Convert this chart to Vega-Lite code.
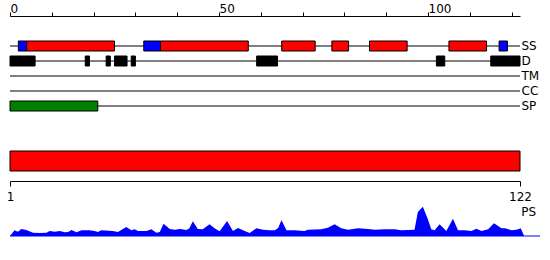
{
  "$schema": "https://vega.github.io/schema/vega-lite/v6.json",
  "padding": {"left": 6, "top": 2, "right": 0, "bottom": 0},
  "bounds": "flush",
  "spacing": 0,
  "config": {
    "view": {"stroke": null},
    "font": "DejaVu Sans",
    "axis": {"grid": false, "labelFont": "DejaVu Sans", "labelColor": "#000", "domainColor": "#000", "tickColor": "#000", "labelFontSize": 12, "title": null}
  },
  "datasets": {
    "tracks": [
      {"track": "SS", "start": 0, "end": 122},
      {"track": "D", "start": 0, "end": 122},
      {"track": "TM", "start": 0, "end": 122},
      {"track": "CC", "start": 0, "end": 122},
      {"track": "SP", "start": 0, "end": 122}
    ],
    "features": [
      {"track": "SS", "type": "strand", "start": 2, "end": 4},
      {"track": "SS", "type": "helix", "start": 4, "end": 25},
      {"track": "SS", "type": "strand", "start": 32, "end": 36},
      {"track": "SS", "type": "helix", "start": 36, "end": 57},
      {"track": "SS", "type": "helix", "start": 65, "end": 73},
      {"track": "SS", "type": "helix", "start": 77, "end": 81},
      {"track": "SS", "type": "helix", "start": 86, "end": 95},
      {"track": "SS", "type": "helix", "start": 105, "end": 114},
      {"track": "SS", "type": "strand", "start": 117, "end": 119},
      {"track": "D", "type": "disorder", "start": 0, "end": 6},
      {"track": "D", "type": "disorder", "start": 18, "end": 19},
      {"track": "D", "type": "disorder", "start": 23, "end": 24},
      {"track": "D", "type": "disorder", "start": 25, "end": 28},
      {"track": "D", "type": "disorder", "start": 29, "end": 30},
      {"track": "D", "type": "disorder", "start": 59, "end": 64},
      {"track": "D", "type": "disorder", "start": 102, "end": 104},
      {"track": "D", "type": "disorder", "start": 115, "end": 122},
      {"track": "SP", "type": "signal", "start": 0, "end": 21}
    ],
    "protein": [
      {"name": "protein", "start": 1, "end": 122}
    ],
    "profile": [
      {"pos": 0, "value": 0}, {"pos": 1.1, "value": 5.7}, {"pos": 1.9, "value": 4.3}, {"pos": 2.7, "value": 7},
      {"pos": 3.9, "value": 6}, {"pos": 5.5, "value": 3.3}, {"pos": 7.1, "value": 3}, {"pos": 8.7, "value": 3.3},
      {"pos": 9.5, "value": 5}, {"pos": 10.7, "value": 4.3}, {"pos": 11.9, "value": 5}, {"pos": 13.1, "value": 3.7},
      {"pos": 13.9, "value": 4}, {"pos": 14.7, "value": 6}, {"pos": 15.9, "value": 3.7}, {"pos": 17.1, "value": 5.7},
      {"pos": 19.0, "value": 5.7}, {"pos": 20.2, "value": 5}, {"pos": 21.0, "value": 4}, {"pos": 21.8, "value": 5.7},
      {"pos": 24.6, "value": 5}, {"pos": 25.8, "value": 4}, {"pos": 27.8, "value": 9}, {"pos": 29.0, "value": 5.7},
      {"pos": 29.8, "value": 6.7}, {"pos": 30.6, "value": 5}, {"pos": 32.6, "value": 5}, {"pos": 33.8, "value": 6.7},
      {"pos": 35.0, "value": 3.3}, {"pos": 35.8, "value": 4}, {"pos": 36.7, "value": 12.3}, {"pos": 38.2, "value": 7},
      {"pos": 39.4, "value": 6.3}, {"pos": 40.6, "value": 7}, {"pos": 42.2, "value": 6}, {"pos": 42.9, "value": 7.7},
      {"pos": 43.7, "value": 14.7}, {"pos": 44.9, "value": 7}, {"pos": 46.1, "value": 6.7}, {"pos": 47.7, "value": 11.7},
      {"pos": 48.9, "value": 7.7}, {"pos": 50.1, "value": 4.7}, {"pos": 51.9, "value": 15}, {"pos": 53.3, "value": 5},
      {"pos": 54.5, "value": 8}, {"pos": 55.7, "value": 5.7}, {"pos": 57.3, "value": 3}, {"pos": 58.9, "value": 7.7},
      {"pos": 60.5, "value": 6.3}, {"pos": 62.1, "value": 5.7}, {"pos": 63.3, "value": 5.7}, {"pos": 64.1, "value": 8},
      {"pos": 64.9, "value": 15.7}, {"pos": 66.1, "value": 5.7}, {"pos": 68.0, "value": 5.7}, {"pos": 70.4, "value": 5},
      {"pos": 71.2, "value": 6.3}, {"pos": 74.4, "value": 6.7}, {"pos": 76.0, "value": 8.3}, {"pos": 77.6, "value": 11.7},
      {"pos": 79.2, "value": 7.7}, {"pos": 80.8, "value": 6.3}, {"pos": 83.2, "value": 7.7}, {"pos": 85.6, "value": 7},
      {"pos": 87.2, "value": 6.3}, {"pos": 89.6, "value": 6.7}, {"pos": 92.0, "value": 6.7}, {"pos": 93.5, "value": 5.7},
      {"pos": 96.7, "value": 6.3}, {"pos": 97.5, "value": 24}, {"pos": 98.7, "value": 29.3}, {"pos": 99.9, "value": 16.7},
      {"pos": 100.7, "value": 6.7}, {"pos": 101.5, "value": 5.7}, {"pos": 102.7, "value": 11.7}, {"pos": 104.3, "value": 5},
      {"pos": 105.9, "value": 17.3}, {"pos": 107.1, "value": 5.7}, {"pos": 108.7, "value": 5.7}, {"pos": 110.3, "value": 5},
      {"pos": 111.5, "value": 7.3}, {"pos": 112.7, "value": 5}, {"pos": 114.3, "value": 6.7}, {"pos": 115.7, "value": 12.7},
      {"pos": 117.5, "value": 7.7}, {"pos": 118.3, "value": 7.7}, {"pos": 119.9, "value": 5.7}, {"pos": 121.1, "value": 6.3},
      {"pos": 122.1, "value": 7.7}, {"pos": 122.9, "value": 0}
    ]
  },
  "vconcat": [
    {
      "width": 510,
      "height": 105,
      "layer": [
        {
          "data": {"name": "tracks"},
          "mark": {"type": "rule", "color": "#000", "strokeWidth": 1},
          "encoding": {
            "y": {"field": "track", "type": "nominal",
              "scale": {"type": "band", "domain": ["SS", "D", "TM", "CC", "SP"], "paddingInner": 0, "paddingOuter": 1, "align": 0.75},
              "axis": {"orient": "right", "domain": false, "ticks": false, "tickSize": 0, "labelPadding": 1, "labelAlign": "left", "labelBaseline": "middle", "labelFontSize": 12}},
            "x": {"field": "start", "type": "quantitative",
              "scale": {"domain": [0, 122], "nice": false, "zero": false},
              "axis": {"orient": "top", "values": [0, 10, 20, 30, 40, 50, 60, 70, 80, 90, 100, 110, 120],
                "labelExpr": "datum.value % 50 === 0 ? datum.label : ''",
                "labelAlign": "left", "labelBaseline": "alphabetic", "labelPadding": 0, "tickSize": 4,
                "labelFlush": false, "labelOverlap": false}},
            "x2": {"field": "end"}
          }
        },
        {
          "data": {"name": "features"},
          "mark": {"type": "bar", "height": 10, "stroke": "#000", "strokeWidth": 1},
          "encoding": {
            "x": {"field": "start", "type": "quantitative"},
            "x2": {"field": "end"},
            "y": {"field": "track", "type": "nominal"},
            "color": {"field": "type", "type": "nominal",
              "scale": {"domain": ["helix", "strand", "disorder", "signal"], "range": ["#ff0000", "#0000ff", "#000000", "#008000"]},
              "legend": null}
          }
        }
      ]
    },
    {
      "width": 510,
      "height": 60,
      "data": {"name": "protein"},
      "mark": {"type": "bar", "color": "#ff0000", "stroke": "#000", "strokeWidth": 1},
      "encoding": {
        "x": {"field": "start", "type": "quantitative",
          "scale": {"domain": [1, 122], "nice": false, "zero": false},
          "axis": {"values": [1, 122], "tickSize": 5, "labelPadding": 5, "labelFlush": false, "labelOverlap": false}},
        "x2": {"field": "end"},
        "y": {"field": "name", "type": "nominal", "scale": {"type": "band", "paddingInner": 0, "paddingOuter": 1, "align": 0.75}, "axis": null}
      }
    },
    {
      "width": 530,
      "height": 55,
      "layer": [
        {
          "data": {"name": "profile"},
          "mark": {"type": "area", "color": "#0000ff", "opacity": 1, "interpolate": "linear"},
          "encoding": {
            "x": {"field": "pos", "type": "quantitative", "scale": {"domain": [0, 126.7], "nice": false, "zero": false}, "axis": null},
            "y": {"field": "value", "type": "quantitative", "scale": {"domain": [0, 55], "nice": false}, "axis": null}
          }
        },
        {
          "data": {"values": [{}]},
          "mark": {"type": "rule", "color": "#0000ff", "strokeWidth": 1},
          "encoding": {"y": {"datum": 0}}
        },
        {
          "data": {"values": [{}]},
          "mark": {"type": "text", "text": "PS", "align": "left", "baseline": "middle", "dx": 1, "fontSize": 12, "font": "DejaVu Sans", "color": "#000"},
          "encoding": {"x": {"datum": 122}, "y": {"datum": 24}}
        }
      ]
    }
  ]
}
